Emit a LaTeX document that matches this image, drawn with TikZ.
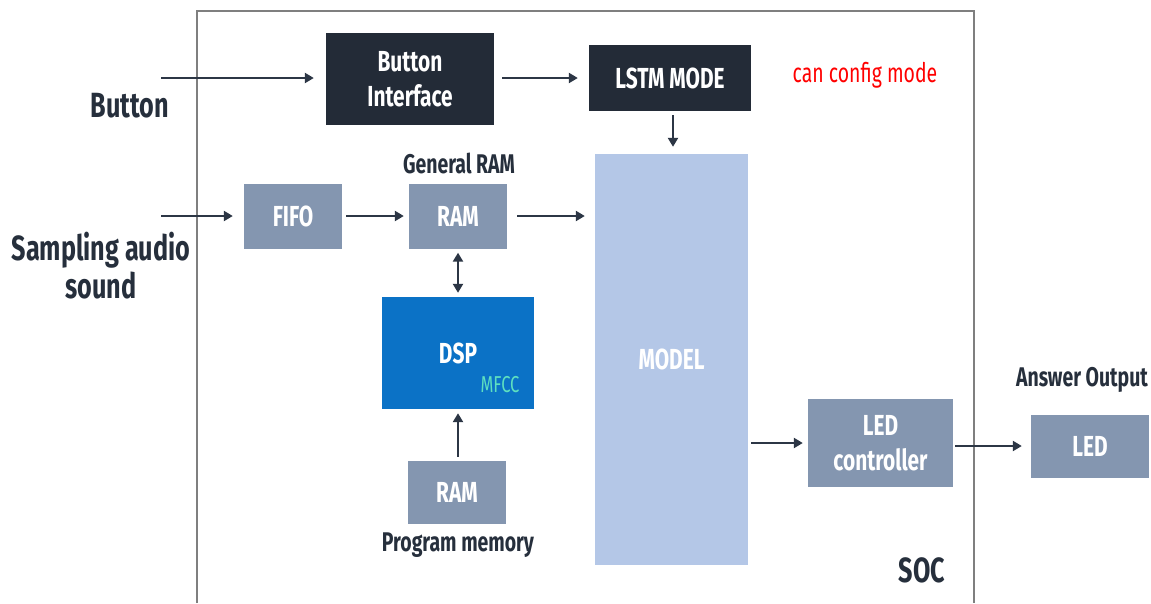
\documentclass[tikz,border=0pt]{standalone}
\usepackage{fontspec}
\setmainfont{Fira Sans}
\newfontfamily\agency{Fira Sans}[FakeStretch=0.72]
\usetikzlibrary{arrows.meta,calc}

\definecolor{navy}{HTML}{232B37}
\definecolor{slate}{HTML}{8496B0}
\definecolor{dspblue}{HTML}{0B72C6}
\definecolor{modelblue}{HTML}{B4C7E7}
\definecolor{ink}{HTML}{262F3C}
\definecolor{arrowc}{HTML}{2C3645}
\definecolor{mfcc}{HTML}{5EE0C0}
\definecolor{frame}{HTML}{7F7F7F}

\tikzset{
  block/.style={inner sep=0pt, align=center, text=white, font=\agency\bfseries\fontsize{29}{35}\selectfont},
  darkblock/.style={block, fill=navy},
  slateblock/.style={block, fill=slate},
  caption/.style={inner sep=0pt, align=center, text=ink, font=\agency\bfseries\fontsize{27}{30}\selectfont},
  biglabel/.style={inner sep=0pt, align=center, text=ink, font=\agency\bfseries\fontsize{35}{38}\selectfont},
  link/.style={draw=arrowc, line width=2.9pt, -{Triangle[length=9pt,width=10pt]}},
  duallink/.style={draw=arrowc, line width=2.9pt, {Triangle[length=9pt,width=10pt]}-{Triangle[length=9pt,width=10pt]}},
}

\begin{document}
\begin{tikzpicture}[x=1pt, y=-1pt]
\useasboundingbox (0,0) rectangle (1151,603);
\fill[white] (0,0) rectangle (1151,603);

% SOC frame, open towards the bottom edge
\draw[frame, line width=1.5pt] (197,603) -- (197,11) -- (974,11) -- (974,603);

% blocks
\node[darkblock, minimum width=168pt, minimum height=92pt] (bif) at (410,79) {Button\\Interface};
\node[darkblock, minimum width=162pt, minimum height=66pt] (lstm) at (670,78) {LSTM MODE};
\node[block, fill=modelblue, minimum width=153pt, minimum height=411pt] (model) at (671.5,359.5) {MODEL};
\node[slateblock, minimum width=98pt, minimum height=65pt] (fifo) at (293,216) {FIFO};
\node[slateblock, minimum width=98pt, minimum height=65pt] (ram) at (458,216) {RAM};
\node[block, fill=dspblue, minimum width=152pt, minimum height=112pt] (dsp) at (458,353) {DSP};
\node[slateblock, minimum width=98pt, minimum height=63pt] (pram) at (457,492.5) {RAM};
\node[slateblock, minimum width=145pt, minimum height=88pt] (ledc) at (880.5,443) {LED\\controller};
\node[slateblock, minimum width=118pt, minimum height=63pt] (led) at (1090,446) {LED};

% labels
\node[biglabel] (btn) at (130,106) {Button};
\node[biglabel] (samp) at (101,266) {Sampling audio\\sound};
\node[caption] (genram) at (459,163) {General RAM};
\node[caption] (progmem) at (458,545) {Program memory};
\node[caption] (answer) at (1082,380) {Answer Output};
\node[inner sep=0pt, text=ink, font=\agency\bfseries\fontsize{35}{40}\selectfont] (soc) at (922,570) {SOC};
\node[inner sep=0pt, text=red, font=\agency\fontsize{27}{30}\selectfont] (cfg) at (865,75) {can config mode};
\node[inner sep=0pt, text=mfcc, font=\agency\fontsize{23}{26}\selectfont] (mf) at (500,385) {MFCC};

% free ends of the input arrows
\coordinate (btnin) at (161,78);
\coordinate (sampin) at (161,216);

% connectors
\draw[link, shorten >=12pt] (btnin) -- (btnin -| bif.west);
\draw[link, shorten <=8pt, shorten >=11pt] (bif.east |- lstm.west) -- (lstm.west);
\draw[link, shorten <=4pt, shorten >=7pt] (lstm.south -| 673,0) -- (model.north -| 673,0);
\draw[link, shorten >=11pt] (sampin) -- (sampin -| fifo.west);
\draw[link, shorten <=4pt, shorten >=5pt] (fifo) -- (ram);
\draw[link, shorten <=10pt, shorten >=10pt] (ram.east) -- (ram.east -| model.west);
\draw[duallink, shorten <=4pt, shorten >=4pt] (ram.south) -- (dsp.north);
\draw[link, shorten <=4pt, shorten >=4pt] (pram.north -| dsp.south) -- (dsp.south);
\draw[link, shorten <=3pt, shorten >=5pt] (model.east |- ledc.west) -- (ledc.west);
\draw[link, shorten <=2pt, shorten >=9pt] (ledc.east |- led.west) -- (led.west);
\end{tikzpicture}
\end{document}
